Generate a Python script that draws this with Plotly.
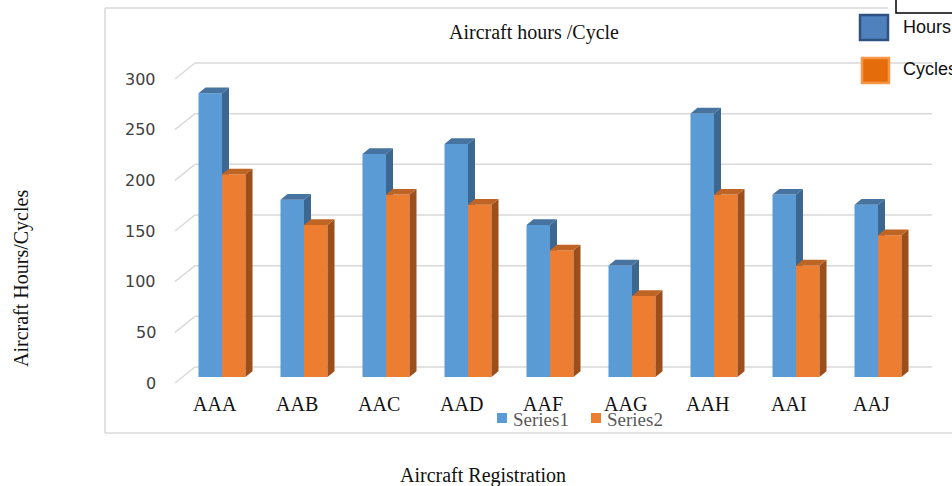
import plotly.graph_objects as go

# ---- data ----
categories = ["AAA", "AAB", "AAC", "AAD", "AAF", "AAG", "AAH", "AAI", "AAJ"]
hours = [280, 175, 220, 230, 150, 110, 260, 180, 170]
cycles = [200, 150, 180, 170, 125, 80, 180, 110, 140]
y_ticks = [0, 50, 100, 150, 200, 250, 300]

W, H = 952, 486
# axis scales (pixel geometry of the layout)
PX_PER_CAT = 82.0
X0 = -222.0 / PX_PER_CAT
X1 = X0 + W / PX_PER_CAT
PX_PER_UNIT = 304.0 / 300.0
Y0 = -(H - 377.0) / PX_PER_UNIT
Y1 = Y0 + H / PX_PER_UNIT

bar_w = 23.5 / PX_PER_CAT
dx = 7.0 / PX_PER_CAT
dy = 5.7 / PX_PER_UNIT
grid_off = 10.0 / PX_PER_UNIT
label_off = -6.0 / PX_PER_UNIT


def px(x):
    return x / W


def py(y):
    return 1 - y / H


def faces(values, offset):
    front_x, front_y, side_x, side_y, top_x, top_y = [], [], [], [], [], []
    for i, v in enumerate(values):
        l = i + offset
        r = l + bar_w
        front_x += [l, r, r, l, l, None]
        front_y += [0, 0, v, v, 0, None]
        side_x += [r, r + dx, r + dx, r, r, None]
        side_y += [0, dy, v + dy, v, 0, None]
        top_x += [l, r, r + dx, l + dx, l, None]
        top_y += [v, v, v + dy, v + dy, v, None]
    return (front_x, front_y), (side_x, side_y), (top_x, top_y)


fig = go.Figure()

series = [
    (hours, -bar_w, "#5B9BD5", "#3B6791", "#46739F"),
    (cycles, 0.0, "#ED7D31", "#9C4F1B", "#BE6526"),
]
for vals, off, cf, cs, ct in series:
    for (xs, ys), col in zip(faces(vals, off), (cf, cs, ct)):
        fig.add_trace(go.Scatter(x=xs, y=ys, mode="lines", fill="toself",
                                 fillcolor=col, line=dict(width=0, color=col),
                                 hoverinfo="skip", showlegend=False))

shapes = []
annotations = []
grid_col = "#D9D9D9"
# chart frame
shapes.append(dict(type="line", xref="paper", yref="paper", x0=px(105), x1=px(105),
                   y0=py(8), y1=py(433), line=dict(color=grid_col, width=1.5), layer="below"))
shapes.append(dict(type="line", xref="paper", yref="paper", x0=px(105), x1=px(888),
                   y0=py(8), y1=py(8), line=dict(color=grid_col, width=1.5), layer="below"))
shapes.append(dict(type="line", xref="paper", yref="paper", x0=px(105), x1=px(952),
                   y0=py(433), y1=py(433), line=dict(color=grid_col, width=1.5), layer="below"))

for t in y_ticks:
    shapes.append(dict(type="line", xref="paper", yref="y", x0=px(195), x1=px(932),
                       y0=t + grid_off, y1=t + grid_off,
                       line=dict(color=grid_col, width=1.5), layer="below"))
    shapes.append(dict(type="line", xref="paper", yref="y", x0=px(175), x1=px(195),
                       y0=t + label_off, y1=t + grid_off,
                       line=dict(color=grid_col, width=1.5), layer="below"))
    annotations.append(dict(text=str(t), xref="paper", yref="y", x=px(158), y=t + label_off,
                            xanchor="right", yanchor="middle", showarrow=False,
                            font=dict(family="DejaVu Sans", size=16, color="#404040")))

for i, c in enumerate(categories):
    annotations.append(dict(text=c, xref="x", yref="paper", x=i - 0.08, y=py(404),
                            xanchor="center", yanchor="middle", showarrow=False,
                            font=dict(family="Liberation Serif", size=20, color="#111111")))

serif = "Liberation Serif"


def note(text, x, y, size, family=serif, color="#111111", xanchor="center", angle=0):
    return dict(text=text, xref="paper", yref="paper", x=px(x), y=py(y),
                xanchor=xanchor, yanchor="middle", textangle=angle, showarrow=False,
                font=dict(family=family, size=size, color=color))


annotations += [
    note("Aircraft hours /Cycle", 534, 33, 20),
    note("Aircraft Hours/Cycles", 21, 279, 20, angle=-90),
    note("Aircraft Registration", 483, 475, 20),
    note("Series1", 511, 419, 19, color="#595959", xanchor="left"),
    note("Series2", 605, 419, 19, color="#595959", xanchor="left"),
    note("Hours", 901, 27, 18, family="Liberation Sans", xanchor="left"),
    note("Cycles", 901, 69, 18, family="Liberation Sans", xanchor="left"),
]

# small legend squares
shapes += [
    dict(type="rect", xref="paper", yref="paper", x0=px(497), x1=px(507), y0=py(423), y1=py(413),
         fillcolor="#5B9BD5", line=dict(width=0)),
    dict(type="rect", xref="paper", yref="paper", x0=px(591), x1=px(601), y0=py(423), y1=py(413),
         fillcolor="#ED7D31", line=dict(width=0)),
    dict(type="rect", xref="paper", yref="paper", x0=px(860), x1=px(888), y0=py(40), y1=py(15),
         fillcolor="#4F81BD", line=dict(color="#2F5283", width=2.5)),
    dict(type="rect", xref="paper", yref="paper", x0=px(862), x1=px(889), y0=py(83), y1=py(58),
         fillcolor="#E46C0A", line=dict(color="#F79646", width=2.5)),
    dict(type="rect", xref="paper", yref="paper", x0=px(896), x1=px(960), y0=py(13), y1=py(-10),
         fillcolor="rgba(0,0,0,0)", line=dict(color="#000000", width=1.5)),
]

fig.update_layout(
    width=W, height=H,
    margin=dict(l=0, r=0, t=0, b=0),
    paper_bgcolor="white", plot_bgcolor="white",
    xaxis=dict(range=[X0, X1], visible=False, fixedrange=True),
    yaxis=dict(range=[Y0, Y1], visible=False, fixedrange=True),
    shapes=shapes, annotations=annotations,
    showlegend=False,
)

fig.write_html(
    "out.html",
    config={"displayModeBar": False},
    post_script="document.body.style.margin='0';document.body.style.overflow='hidden';",
)
